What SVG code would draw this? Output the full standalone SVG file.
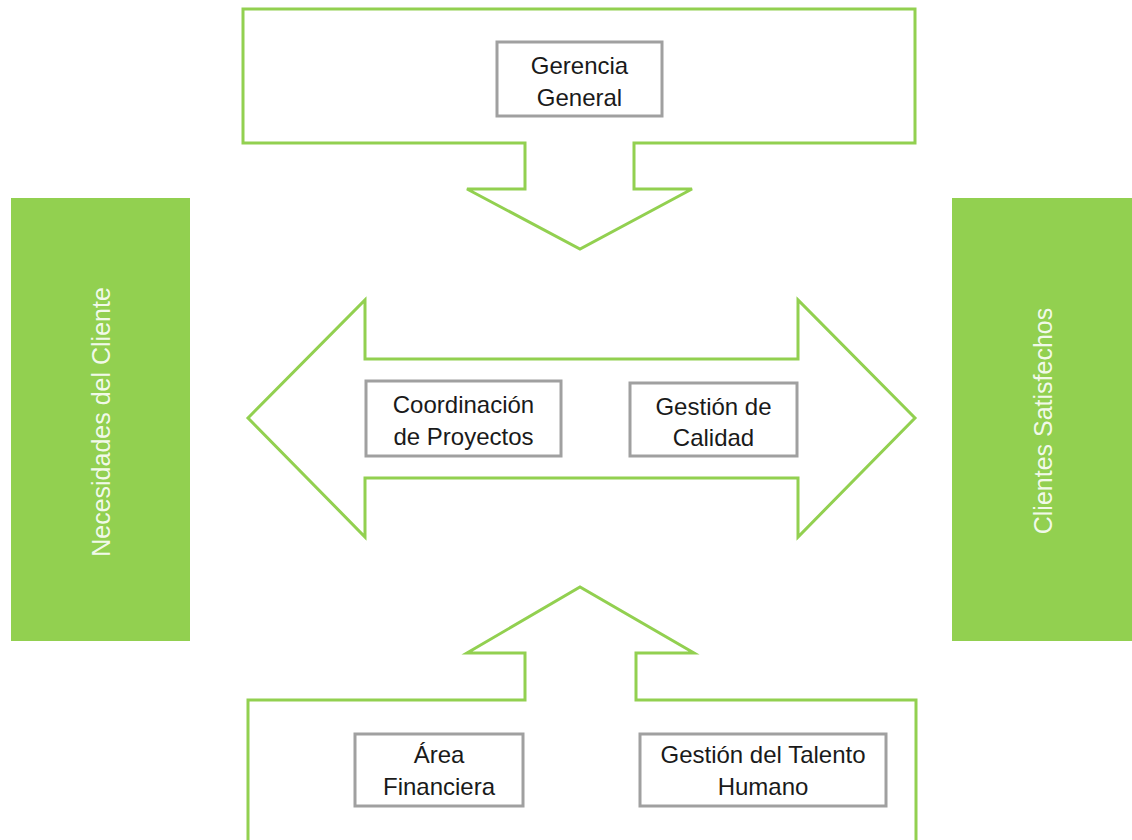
<svg xmlns="http://www.w3.org/2000/svg" width="1132" height="840" viewBox="0 0 1132 840">
<style>
.arrow{fill:#fff;stroke:#92D050;stroke-width:3;stroke-linejoin:miter}
.box{fill:#fff;stroke:#A0A0A0;stroke-width:3}
.t{font-family:"Liberation Sans",Arial,sans-serif;font-size:24px;fill:#1a1a1a;text-anchor:middle}
.side{fill:#92D050}
.st{font-family:"Liberation Sans",Arial,sans-serif;font-size:25px;fill:#fff;fill-opacity:0.9;text-anchor:middle}
</style>
<rect width="1132" height="840" fill="#fff"/>
<g id="connectors">
<polygon id="top-arrow" class="arrow" points="243,9 915,9 915,143 634,143 634,189 692,189 580,249 467,189 525,189 525,143 243,143"/>
<polygon id="mid-arrow" class="arrow" points="248,418 365,300 365,359 798,359 798,300 915,418 798,537 798,478 365,478 365,537"/>
<polygon id="bottom-arrow" class="arrow" points="248,700 525,700 525,653 467,653 580,587 694,653 636,653 636,700 916,700 916,848 248,848"/>
</g>
<g id="necesidades">
<rect class="side" x="11" y="198" width="179" height="443"/>
<text class="st" transform="translate(110,422) rotate(-90)">Necesidades del Cliente</text>
</g>
<g id="clientes">
<rect class="side" x="952" y="198" width="180" height="443"/>
<text class="st" transform="translate(1052,421) rotate(-90)">Clientes Satisfechos</text>
</g>
<g id="gerencia">
<rect class="box" x="497" y="42" width="165" height="74"/>
<text class="t" x="579.5" y="74">Gerencia</text>
<text class="t" x="579.5" y="106">General</text>
</g>
<g id="coordinacion">
<rect class="box" x="366" y="381" width="195" height="75"/>
<text class="t" x="463.5" y="413">Coordinación</text>
<text class="t" x="463.5" y="445">de Proyectos</text>
</g>
<g id="calidad">
<rect class="box" x="630" y="383" width="167" height="73"/>
<text class="t" x="713.5" y="415">Gestión de</text>
<text class="t" x="713.5" y="446">Calidad</text>
</g>
<g id="financiera">
<rect class="box" x="355" y="734" width="168" height="72"/>
<text class="t" x="439" y="763">Área</text>
<text class="t" x="439" y="795">Financiera</text>
</g>
<g id="talento">
<rect class="box" x="640" y="734" width="246" height="72"/>
<text class="t" x="763" y="763">Gestión del Talento</text>
<text class="t" x="763" y="795">Humano</text>
</g>
</svg>
